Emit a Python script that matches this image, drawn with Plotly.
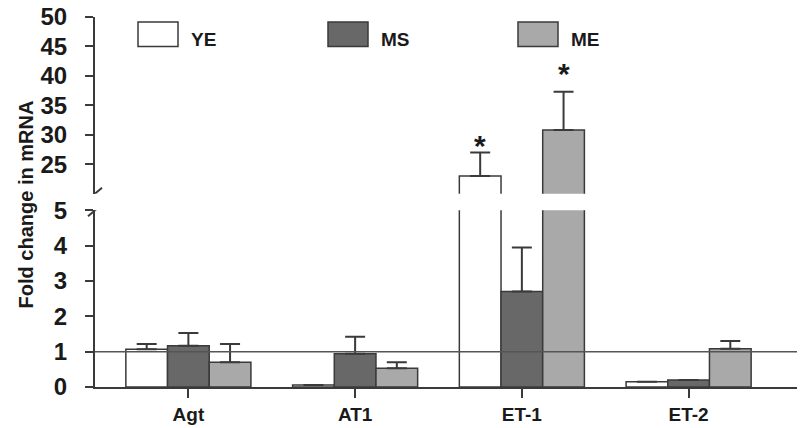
import plotly.graph_objects as go

# ---- data -------------------------------------------------------------
genes = ["Agt", "AT1", "ET-1", "ET-2"]
series = ["YE", "MS", "ME"]
ye_mean = [1.07, 0.06, 23.0, 0.15]
ye_err = [0.15, 0.0, 4.0, 0.0]
ms_mean = [1.17, 0.94, 2.70, 0.20]
ms_err = [0.36, 0.48, 1.25, 0.0]
me_mean = [0.70, 0.53, 30.8, 1.08]
me_err = [0.52, 0.17, 6.5, 0.22]
significant = {"YE": [False, False, True, False],
               "MS": [False, False, False, False],
               "ME": [False, False, True, False]}
break_low, break_high = 5, 20
y_low_ticks = [0, 1, 2, 3, 4, 5]
y_high_ticks = [25, 30, 35, 40, 45, 50]
reference_level = 1

colors = {"YE": "#ffffff", "MS": "#686868", "ME": "#a9a9a9"}
star_lift = {"YE": -12, "MS": -12, "ME": 0}
edge = "#3a3a3a"

W, H = 800, 428
M_L, M_R, M_T, M_B = 95, 3, 11, 40
PW, PH = W - M_L - M_R, H - M_T - M_B
BOLD = dict(family="Liberation Sans, Arial, sans-serif", color="#1a1a1a", weight="bold")


def px_x(p):
    return (p - M_L) / PW


def px_y(p):
    return (H - M_B - p) / PH


data = {"YE": (ye_mean, ye_err), "MS": (ms_mean, ms_err), "ME": (me_mean, me_err)}

fig = go.Figure()

# ── lower panel (0–5) ──────────────────────────────────────────────────────
for s in series:
    mean, err = data[s]
    fig.add_trace(go.Bar(
        x=genes, y=mean, name=s, xaxis="x", yaxis="y",
        marker=dict(color=colors[s], line=dict(color=edge, width=1.5)),
        error_y=dict(type="data", symmetric=False,
                     array=[e if m <= break_low else None for m, e in zip(mean, err)],
                     arrayminus=[0] * len(mean),
                     color=edge, thickness=2, width=10),
        showlegend=False,
    ))

# ── upper panel (20–50), only the bars that go past the break ─────────────
for s in series:
    mean, err = data[s]
    fig.add_trace(go.Bar(
        x=genes, y=[m if m > break_low else None for m in mean],
        name=s, xaxis="x", yaxis="y2",
        marker=dict(color=colors[s], line=dict(color=edge, width=1.5)),
        error_y=dict(type="data", symmetric=False,
                     array=[e if m > break_low else None for m, e in zip(mean, err)],
                     arrayminus=[0] * len(mean),
                     color=edge, thickness=2, width=10),
        showlegend=False,
    ))

# ── significance stars ────────────────────────────────────────────────────
bar_px = PW / 4.21 * 0.75 / 3
for i, s in enumerate(series):
    mean, err = data[s]
    for g, m, e, sig in zip(genes, mean, err, significant[s]):
        if sig:
            fig.add_annotation(
                x=g, y=m + e, xref="x", yref="y2" if m > break_low else "y",
                text="*", showarrow=False, xshift=(i - 1) * bar_px,
                yanchor="bottom", yshift=star_lift[s],
                font=dict(BOLD, size=30),
            )

axis_common = dict(showgrid=False, zeroline=False, showline=True,
                   linecolor=edge, linewidth=2, ticks="outside",
                   ticklen=8, tickwidth=2, tickcolor=edge,
                   tickfont=dict(BOLD, size=24), ticklabelstandoff=13)

fig.update_layout(
    width=W, height=H,
    margin=dict(l=M_L, r=M_R, t=M_T, b=M_B),
    plot_bgcolor="white", paper_bgcolor="white",
    barmode="group", bargap=0.25, bargroupgap=0,
    xaxis=dict(type="category", range=[-0.56, 3.65], showgrid=False,
               showline=True, linecolor=edge, linewidth=2,
               ticks="outside", ticklen=9, tickwidth=2, tickcolor=edge,
               tickfont=dict(BOLD, size=19), ticklabelstandoff=0, anchor="y"),
    yaxis=dict(axis_common, domain=[0, px_y(208)], range=[0, break_low],
               tickvals=y_low_ticks, anchor="x"),
    yaxis2=dict(axis_common, domain=[px_y(191), 1], range=[break_high, 50],
                tickvals=y_high_ticks, anchor="x"),
    showlegend=False,
)

# reference line at 1-fold
fig.add_shape(type="line", xref="paper", yref="y", x0=0, x1=1,
              y0=reference_level, y1=reference_level,
              line=dict(color="#555555", width=1.5), layer="above")

# axis break slashes
for yref, yv in (("y2", break_high), ("y", break_low)):
    fig.add_shape(type="line", xref="paper", yref=yref,
                  xsizemode="pixel", ysizemode="pixel", xanchor=0, yanchor=yv,
                  x0=-7, x1=7, y0=-6, y1=6,
                  line=dict(color=edge, width=2))

# custom legend
for s, bx in zip(series, (138, 328, 518)):
    fig.add_shape(type="rect", xref="paper", yref="paper",
                  x0=px_x(bx), x1=px_x(bx + 40), y0=px_y(41), y1=px_y(16),
                  fillcolor=colors[s], line=dict(color=edge, width=1.5))
    fig.add_annotation(x=px_x(bx + 51), y=px_y(34), xref="paper", yref="paper",
                       text=s, showarrow=False, xanchor="left", yanchor="middle",
                       font=dict(BOLD, size=19))

# y axis title
fig.add_annotation(x=(13 - M_L) / PW, y=px_y(202), xref="paper", yref="paper",
                   text="Fold change in mRNA", textangle=-90, showarrow=False,
                   font=dict(BOLD, size=20))

fig.write_html("out.html", config={"displayModeBar": False},
               post_script="document.body.style.margin='0px';")
